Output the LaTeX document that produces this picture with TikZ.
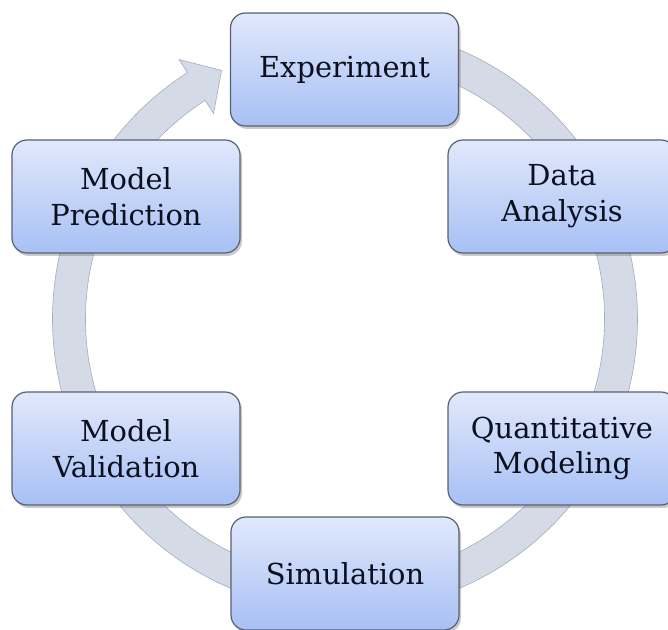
\documentclass[tikz,border=0pt]{standalone}
\usepackage{fontspec}
\setmainfont{DejaVu Serif}
\usetikzlibrary{shadows}
\definecolor{ringfill}{RGB}{212,218,230}
\definecolor{ringedge}{RGB}{165,172,186}
\definecolor{boxtop}{RGB}{224,232,251}
\definecolor{boxbot}{RGB}{168,192,245}
\definecolor{boxedge}{RGB}{90,96,110}
\definecolor{txt}{RGB}{12,16,30}
\begin{document}
\begin{tikzpicture}[x=1bp,y=1bp,
  stagebox/.style={rounded corners=15bp, draw=boxedge, line width=1.2bp,
    top color=boxtop, bottom color=boxbot,
    minimum width=228bp, minimum height=113bp, inner sep=0pt,
    align=center, text=txt, font=\fontsize{29}{36}\selectfont,
    drop shadow={shadow xshift=2bp, shadow yshift=-3bp, opacity=0.35, fill=black!60}}]
\useasboundingbox (0,0) rectangle (668,630);
% cycle ring with arrow head
\coordinate (c) at (345,311);
\filldraw[fill=ringfill, draw=ringedge, line width=0.6bp]
  ([shift={(90:292.5)}]c) arc[start angle=90, end angle=-237.4, radius=292.5]
  -- ([shift={(122.6:308)}]c)
  -- ([shift={(116.4:277.6)}]c)
  -- ([shift={(122.6:244)}]c)
  -- ([shift={(122.6:259.5)}]c)
  arc[start angle=-237.4, end angle=90, radius=259.5] -- cycle;
% stages
\node[stagebox] (exp)   at (344.5,560.5) {Experiment};
\node[stagebox] (pred)  at (126,433.5)   {Model\\Prediction};
\node[stagebox] (data)  at (562,433.5)   {Data\\Analysis};
\node[stagebox] (val)   at (126,181.5)   {Model\\Validation};
\node[stagebox] (quant) at (562,181.5)   {Quantitative\\Modeling};
\node[stagebox] (sim)   at (345,56.5)    {Simulation};
\end{tikzpicture}
\end{document}
